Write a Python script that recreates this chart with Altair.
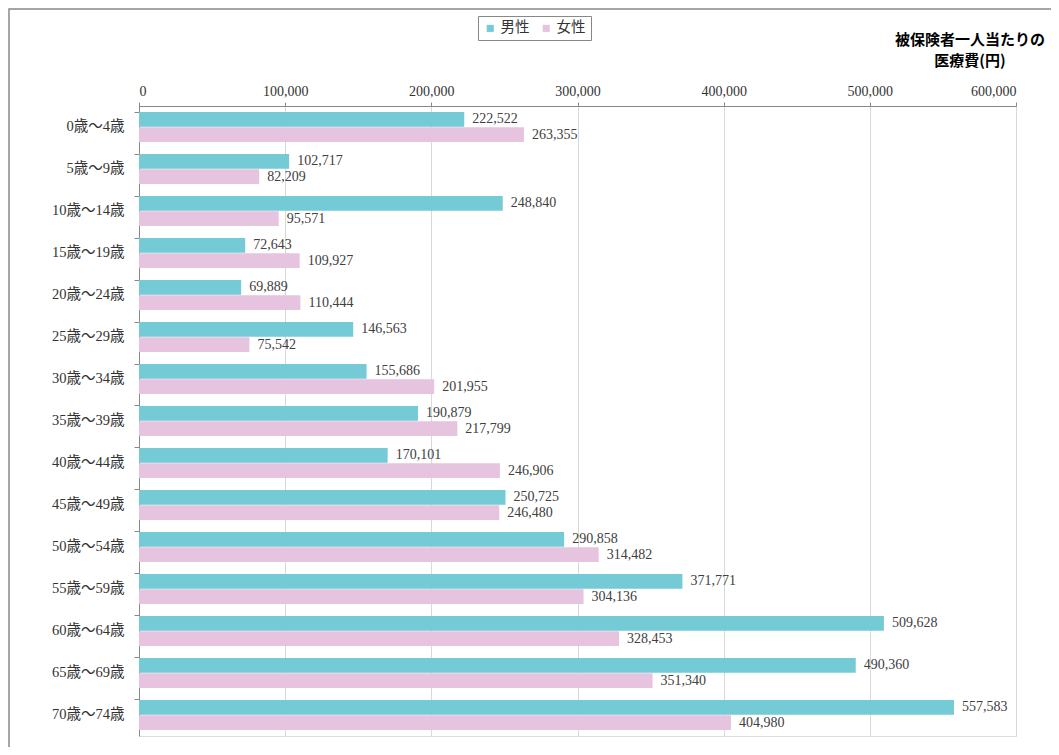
import altair as alt
import pandas as pd

categories = ["0歳～4歳", "5歳～9歳", "10歳～14歳", "15歳～19歳", "20歳～24歳",
              "25歳～29歳", "30歳～34歳", "35歳～39歳", "40歳～44歳", "45歳～49歳",
              "50歳～54歳", "55歳～59歳", "60歳～64歳", "65歳～69歳", "70歳～74歳"]
male = [222522, 102717, 248840, 72643, 69889, 146563, 155686, 190879, 170101,
        250725, 290858, 371771, 509628, 490360, 557583]
female = [263355, 82209, 95571, 109927, 110444, 75542, 201955, 217799, 246906,
          246480, 314482, 304136, 328453, 351340, 404980]
series = ["男性", "女性"]
colors = ["#74CBD6", "#E6C3DE"]
x_ticks = [0, 100000, 200000, 300000, 400000, 500000, 600000]
title_lines = ["被保険者一人当たりの", "医療費(円)"]

rows = []
for c, m, f in zip(categories, male, female):
    rows.append({"age": c, "sex": series[0], "value": m})
    rows.append({"age": c, "sex": series[1], "value": f})
df = pd.DataFrame(rows)

SERIF = "Liberation Serif, Noto Sans CJK JP"
SANS = "Noto Sans CJK JP"
W, H = 877, 630

y_enc = alt.Y("age:N", sort=categories,
              scale=alt.Scale(paddingInner=0.2857, paddingOuter=0.1429),
              axis=alt.Axis(title=None, labelFont=SERIF, labelFontSize=14.5,
                            labelColor="#333333", labelPadding=10,
                            domainColor="#888888", tickColor="#888888",
                            tickSize=5, bandPosition=0, grid=False))
yoff = alt.YOffset("sex:N", sort=series, scale=alt.Scale(paddingInner=0.04))
x_enc = alt.X("value:Q",
              scale=alt.Scale(domain=[0, 600000], nice=False),
              axis=alt.Axis(orient="top", title=None, values=x_ticks, format=",d",
                            labelFont=SERIF, labelFontSize=14, labelColor="#333333",
                            labelPadding=4, domainColor="#888888",
                            tickColor="#888888", tickSize=4,
                            grid=True, gridColor="#D9D9D9"))

bars = alt.Chart(df).mark_bar().encode(
    y=y_enc, yOffset=yoff, x=x_enc,
    color=alt.Color("sex:N", sort=series,
                    scale=alt.Scale(domain=series, range=colors),
                    legend=alt.Legend(title=None, orient="none", direction="horizontal",
                                      legendX=339, legendY=-90,
                                      labelFont=SANS, labelFontSize=14.5,
                                      labelColor="#333333",
                                      symbolType="square", symbolSize=50,
                                      symbolStrokeWidth=0,
                                      strokeColor="#888888", padding=5,
                                      columnPadding=9, labelOffset=3)),
)

labels = alt.Chart(df).mark_text(align="left", baseline="middle", dx=8,
                                 font=SERIF, fontSize=14, color="#404040").encode(
    y=y_enc, yOffset=yoff, x=x_enc,
    text=alt.Text("value:Q", format=","),
)

frame = alt.Chart(pd.DataFrame({"a": [0]})).mark_rect(
    fill=None, stroke="#888888", strokeWidth=1.5).encode(
    x=alt.value(-130), x2=alt.value(W + 80),
    y=alt.value(-97), y2=alt.value(H + 60),
)

title = alt.Chart(pd.DataFrame({"a": [0]})).mark_text(
    text=title_lines, align="center", baseline="middle", font=SANS,
    fontSize=15, fontWeight="bold", color="#000000", lineHeight=21).encode(
    x=alt.value(831), y=alt.value(-66),
)

chart = alt.layer(frame, bars, labels, title).properties(
    width=W, height=H,
    autosize=alt.AutoSizeParams(type="none"),
    padding={"left": 131, "top": 98, "right": 35, "bottom": 11},
).configure_view(stroke=None).configure(background="white")

chart.save("out.html", embed_options={"renderer": "svg", "actions": False})
